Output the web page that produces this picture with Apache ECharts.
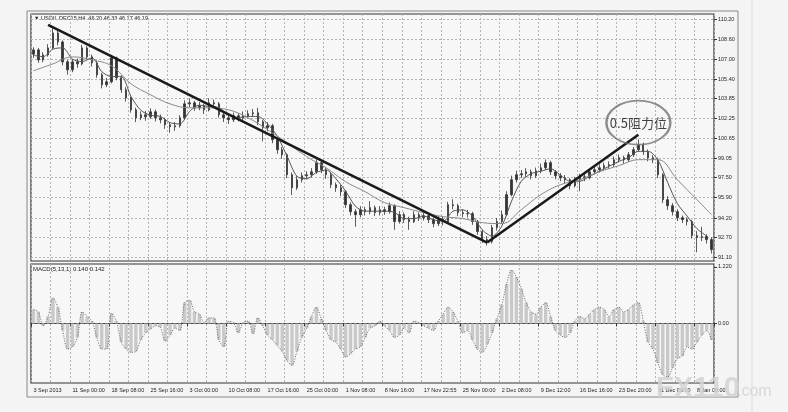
<!DOCTYPE html>
<html><head><meta charset="utf-8">
<script src="https://cdn.jsdelivr.net/npm/echarts@6/dist/echarts.min.js"></script>
<style>html,body{margin:0;padding:0;background:#f4f4f4}#c{width:788px;height:412px}</style>
</head><body><div id="c"></div><script>
const xTickLabels = ["3 Sep 2013","11 Sep 00:00","18 Sep 08:00","25 Sep 16:00","3 Oct 00:00","10 Oct 08:00","17 Oct 16:00","25 Oct 00:00","1 Nov 08:00","8 Nov 16:00","17 Nov 22:55","25 Nov 00:00","2 Dec 08:00","9 Dec 12:00","16 Dec 16:00","23 Dec 20:00","31 Dec 00:00","8 Jan 08:00"];
const priceTicks = [91.10,92.70,94.20,95.90,97.50,99.05,100.65,102.25,103.85,105.40,107.00,108.60,110.20];
const macdTicks = [0,1.22];
const macdTickLabels = {"0":"0.00","1.22":"1.220"};
// [open, close, low, high]
const candles = [
[107.40,107.74,107.10,107.95],[107.74,106.94,106.70,107.90],[106.94,107.34,106.75,107.55],[107.34,107.90,107.20,108.20],
[107.90,109.10,107.80,109.50],[109.10,108.38,108.10,109.30],[108.38,106.78,106.50,108.50],[106.78,106.14,105.75,106.95],
[106.14,106.78,105.95,107.00],[106.78,106.62,106.30,107.05],[106.62,107.90,106.50,108.15],[107.90,107.18,106.95,108.05],
[107.18,106.70,106.40,107.35],[106.70,105.74,105.50,106.85],[105.74,104.94,104.65,105.90],[104.94,105.18,104.75,105.50],
[105.18,107.10,105.05,107.35],[107.10,105.50,105.30,107.20],[105.50,104.54,104.30,105.70],[104.54,103.89,103.60,104.75],
[103.89,102.93,102.70,104.00],[102.93,102.29,101.95,103.10],[102.29,102.53,102.10,102.80],[102.53,102.37,102.05,102.85],
[102.37,102.77,102.20,103.05],[102.77,102.29,102.00,102.95],[102.29,102.13,101.85,102.55],[102.13,101.73,101.40,102.30],
[101.73,101.57,101.10,101.90],[101.57,101.65,101.25,101.95],[101.65,102.29,101.50,102.50],[102.29,103.41,102.15,103.70],
[103.41,103.49,103.15,103.85],[103.49,103.09,102.85,103.65],[103.09,103.25,102.90,103.55],[103.25,102.93,102.60,103.40],
[102.93,103.49,102.80,103.85],[103.49,103.41,103.10,103.75],[103.41,102.53,102.30,103.55],[102.53,102.29,101.95,102.70],
[102.29,102.13,101.80,102.45],[102.13,102.45,101.95,102.70],[102.45,102.29,102.00,102.65],[102.29,102.45,102.10,102.80],
[102.45,102.61,102.25,102.90],[102.61,102.69,102.35,103.00],[102.69,101.97,101.70,103.10],[101.97,101.49,100.40,102.10],
[101.49,101.65,101.20,101.95],[101.65,100.53,100.25,101.80],[100.53,99.73,99.40,100.70],[99.73,99.33,99.00,99.95],
[99.33,97.72,97.45,99.45],[97.72,96.68,96.10,97.90],[96.68,97.32,96.50,97.60],[97.32,97.64,97.10,97.90],
[97.64,97.72,97.35,98.00],[97.72,97.96,97.50,98.25],[97.96,98.69,97.80,98.95],[98.69,98.12,97.85,98.85],
[98.12,97.72,97.40,98.30],[97.72,96.92,96.65,97.90],[96.92,96.68,96.35,97.10],[96.68,96.36,96.00,96.90],
[96.36,95.32,95.05,96.50],[95.32,94.76,94.45,95.50],[94.76,94.52,93.55,94.95],[94.52,94.92,94.30,95.20],
[94.92,94.76,94.45,95.15],[94.76,95.08,94.55,95.60],[95.08,94.68,94.40,95.25],[94.68,94.92,94.45,95.20],
[94.92,94.76,94.50,95.15],[94.76,95.24,94.60,95.50],[95.24,93.96,93.30,95.35],[93.96,94.52,93.80,94.80],
[94.52,94.12,93.85,94.70],[94.12,93.96,93.30,94.35],[93.96,94.52,93.85,94.80],[94.52,94.28,94.00,94.70],
[94.28,94.44,94.05,94.70],[94.44,94.12,93.85,94.60],[94.12,93.80,93.50,94.30],[93.80,94.12,93.60,94.40],
[94.12,93.96,93.65,94.35],[93.96,95.32,93.90,95.55],[95.32,95.24,94.95,95.75],[95.24,94.68,94.40,95.40],
[94.68,94.60,94.30,94.95],[94.60,94.60,94.30,94.90],[94.60,93.96,93.70,94.75],[93.96,93.16,92.90,94.10],
[93.16,92.52,92.25,93.30],[92.52,92.36,92.05,92.80],[92.36,93.48,92.20,93.70],[93.48,93.96,93.25,94.25],
[93.96,94.52,93.80,94.85],[94.52,96.12,94.40,96.40],[96.12,97.32,96.00,97.65],[97.32,97.72,97.10,98.05],
[97.72,97.80,97.45,98.10],[97.80,97.96,97.55,98.25],[97.96,97.64,97.35,98.15],[97.64,98.04,97.45,98.30],
[98.04,98.28,97.85,98.60],[98.28,98.69,98.10,98.95],[98.69,97.96,97.70,98.85],[97.96,97.64,97.35,98.10],
[97.64,97.48,97.20,97.85],[97.48,97.32,97.00,97.70],[97.32,96.84,96.55,97.45],[96.84,97.32,96.70,97.55],
[97.32,97.56,96.40,97.80],[97.56,97.48,97.20,97.85],[97.48,97.96,97.35,98.20],[97.96,98.12,97.75,98.40],
[98.12,98.28,97.90,98.55],[98.28,98.45,98.05,98.70],[98.45,98.53,98.20,98.80],[98.53,98.93,98.35,99.20],
[98.93,99.09,98.70,99.35],[99.09,98.93,98.60,99.25],[98.93,99.33,98.75,99.55],[99.33,99.73,99.15,99.95],
[99.73,100.13,99.55,100.55],[100.13,99.57,99.30,100.30],[99.57,99.09,98.80,99.75],[99.09,98.93,98.65,99.30],
[98.93,97.72,97.45,99.10],[97.72,95.72,95.45,97.85],[95.72,95.24,94.90,96.00],[95.24,94.76,94.45,95.45],
[94.76,94.28,94.00,94.95],[94.28,94.12,93.85,94.45],[94.12,93.96,93.65,94.30],[93.96,92.84,92.60,94.10],
[92.84,92.68,91.50,93.20],[92.68,92.76,92.40,93.55],[92.76,92.52,92.20,92.95],[92.52,91.72,91.40,92.70]
];
// fast moving average, read at every 2nd bar: [barIndex, value]
const fastMA = [[0,107.3],[2,107.2],[4,107.8],[6,107.9],[8,107.0],[10,106.8],[12,107.1],[14,106.0],[16,105.6],[18,105.6],
[20,104.0],[22,102.9],[24,102.5],[26,102.4],[28,101.9],[30,101.8],[32,102.8],[34,103.3],[36,103.2],[38,103.1],
[40,102.5],[42,102.3],[44,102.4],[46,102.4],[48,101.8],[50,100.8],[52,99.2],[54,97.6],[56,97.4],[58,97.9],
[60,98.1],[62,97.4],[64,96.4],[66,95.2],[68,94.8],[70,94.8],[72,94.8],[74,94.7],[76,94.2],[78,94.2],
[80,94.4],[82,94.1],[84,94.0],[86,94.8],[88,94.9],[90,94.4],[92,93.3],[94,92.8],[96,93.6],[98,95.6],
[100,97.2],[102,97.8],[104,98.0],[106,98.2],[108,97.7],[110,97.2],[112,97.2],[114,97.6],[116,98.0],[118,98.4],
[120,98.8],[122,99.1],[124,99.6],[126,99.6],[128,98.9],[130,97.1],[132,95.4],[134,94.4],[136,93.4],[138,92.8]];
// slow moving average, read at every 4th bar
const slowMA = [[0,106.06],[4,106.62],[8,107.18],[12,106.94],[16,106.46],[20,105.02],[24,104.14],[28,103.41],[32,103.09],
[36,103.09],[40,102.93],[44,102.29],[48,101.33],[52,100.29],[56,99.17],[60,98.28],[64,97.16],[68,96.36],[72,95.48],
[76,95.08],[80,94.68],[84,94.36],[88,94.20],[92,93.88],[96,93.80],[100,94.92],[104,96.12],[108,96.92],[112,97.32],
[116,97.96],[120,98.45],[124,98.93],[128,98.93],[132,97.32],[136,95.72],[139,94.52]];
const macd = [0.30,0.25,-0.05,0.15,0.55,0.35,-0.15,-0.55,-0.50,-0.30,0.25,0.15,0.05,-0.30,-0.55,-0.55,0.22,0.05,-0.40,-0.55,
-0.62,-0.60,-0.35,-0.20,-0.12,-0.05,-0.08,-0.38,-0.25,-0.10,-0.15,0.45,0.50,0.25,0.20,0.02,0.12,0.12,-0.35,-0.50,
0.05,0.02,-0.20,0.02,0.05,-0.22,0.12,-0.05,-0.25,-0.35,-0.47,-0.60,-0.80,-0.90,-0.60,-0.30,-0.10,0.15,0.35,0.10,
-0.15,-0.35,-0.40,-0.55,-0.72,-0.65,-0.55,-0.50,-0.30,-0.10,-0.05,0.05,-0.05,-0.15,-0.30,-0.25,-0.10,-0.20,0.05,0.02,
-0.05,-0.10,-0.15,0.05,0.20,0.35,0.25,0.05,-0.20,-0.15,-0.35,-0.55,-0.62,-0.45,-0.20,0.10,0.40,0.85,1.15,1.00,
0.75,0.45,0.25,0.20,0.35,0.45,0.15,-0.15,-0.25,-0.30,-0.20,0.05,0.15,0.10,0.20,0.30,0.35,0.30,0.15,0.30,
0.35,0.25,0.30,0.40,0.45,0.05,-0.40,-0.55,-0.85,-1.10,-1.15,-0.95,-0.75,-0.70,-0.50,-0.55,-0.40,-0.25,-0.15,-0.35];
const trendLines = [[[3,109.75],[93,92.28]],[[93,92.28],[123.5,100.93]]];
const note = {bar:124, value:101.9, text:"0.5阻力位"};
const headerText = "▼ USOIL.DEC15,H4  46.20 46.33 46.17 46.19";
const macdText = "MACD(5,13,1) 0.140 0.142";

const categories = candles.map((_, i) => String(i));
const F = "Liberation Sans";
const chart = echarts.init(document.getElementById('c'), null, {renderer:'canvas'});
const gridLine = {show:true, lineStyle:{color:'#b4b4b4', type:[2,2], width:1}};
chart.setOption({
  animation:false,
  backgroundColor:'#f4f4f4',
  textStyle:{fontFamily:F},
  grid:[
    {left:31, top:14, width:683, height:247, show:true, borderColor:'#333', borderWidth:1.2, backgroundColor:'#f7f7f7'},
    {left:31, top:264, width:683, height:119, show:true, borderColor:'#333', borderWidth:1.2, backgroundColor:'#f7f7f7'}
  ],
  xAxis:[
    {type:'category', gridIndex:0, data:categories, boundaryGap:true,
     axisLine:{show:false}, axisTick:{show:false}, axisLabel:{show:false},
     splitLine:Object.assign({interval:3}, gridLine)},
    {type:'category', gridIndex:1, data:categories, boundaryGap:true,
     axisLine:{show:true, lineStyle:{color:'#333'}},
     axisTick:{show:true, interval:7, length:3, lineStyle:{color:'#333'}},
     axisLabel:{show:true, interval:7, align:'left', margin:4, fontSize:5.5, color:'#222', fontFamily:F,
       formatter:(v, idx) => xTickLabels[idx/8] || ''},
     splitLine:Object.assign({interval:3}, gridLine)}
  ],
  yAxis:[
    {type:'value', gridIndex:0, position:'right', min:90.8, max:110.62, scale:true,
     axisLine:{show:false},
     axisTick:{show:true, customValues:priceTicks, length:3, lineStyle:{color:'#333'}},
     axisLabel:{show:true, customValues:priceTicks, margin:4, fontSize:5.5, color:'#222', fontFamily:F,
       formatter:v => v.toFixed(2)},
     splitLine:gridLine},
    {type:'value', gridIndex:1, position:'right', min:-1.28, max:1.28,
     axisLine:{show:false},
     axisTick:{show:true, customValues:macdTicks, length:3, lineStyle:{color:'#333'}},
     axisLabel:{show:true, customValues:macdTicks, margin:4, fontSize:5.5, color:'#222', fontFamily:F,
       formatter:v => macdTickLabels[String(+v.toFixed(2))] || ''},
     splitLine:{show:false}}
  ],
  series:[
    {type:'candlestick', xAxisIndex:0, yAxisIndex:0, data:candles, barWidth:'40%',
     itemStyle:{color:'#333', color0:'#333', borderColor:'#333', borderColor0:'#333', borderWidth:0.8},
     markLine:{silent:true, symbol:'none', animation:false, label:{show:false},
       lineStyle:{color:'#1a1a1a', width:2.6, type:'solid'},
       data:trendLines.map(l => [{coord:l[0]},{coord:l[1]}])}},
    {type:'line', xAxisIndex:0, yAxisIndex:0, data:fastMA, showSymbol:false, smooth:0.3,
     lineStyle:{color:'#555', width:1}},
    {type:'line', xAxisIndex:0, yAxisIndex:0, data:slowMA, showSymbol:false, smooth:0.4,
     lineStyle:{color:'#8a8a8a', width:1}},
    {type:'scatter', xAxisIndex:0, yAxisIndex:0, data:[[note.bar, note.value]], symbol:'circle', symbolSize:[64,44],
     itemStyle:{color:'rgba(255,255,255,0)', borderColor:'#707070', borderWidth:2},
     label:{show:true, position:'inside', formatter:note.text, fontSize:13, color:'#111', fontFamily:'Noto Sans CJK SC'}, z:5},
    {type:'bar', xAxisIndex:1, yAxisIndex:1, data:macd, barCategoryGap:'30%',
     itemStyle:{color:'#c9c9c9'}},
    {type:'line', xAxisIndex:1, yAxisIndex:1, data:macd, showSymbol:false, smooth:0.3,
     lineStyle:{color:'#666', width:1, type:[1,1.5]}}
  ],
  graphic:[
    {type:'rect', shape:{x:27, y:11, width:711, height:386}, style:{fill:'none', stroke:'#888', lineWidth:1}, z:-1},
    {type:'line', shape:{x1:752, y1:0, x2:752, y2:412}, style:{stroke:'#dcdcdc', lineWidth:1}},
    {type:'text', left:34, top:15, style:{text:headerText, fontSize:5.5, fill:'#222', fontFamily:F}},
    {type:'text', left:33, top:266, style:{text:macdText, fontSize:6, fill:'#222', fontFamily:F}},
    {type:'text', left:656, top:374, style:{text:'FX110', fontSize:29, fontWeight:'bold', fill:'rgba(210,210,210,0.85)', fontFamily:F}, z:100},
    {type:'text', left:737, top:384, style:{text:'.com', fontSize:16, fill:'rgba(210,210,210,0.85)', fontFamily:F}, z:100}
  ]
});
</script></body></html>
